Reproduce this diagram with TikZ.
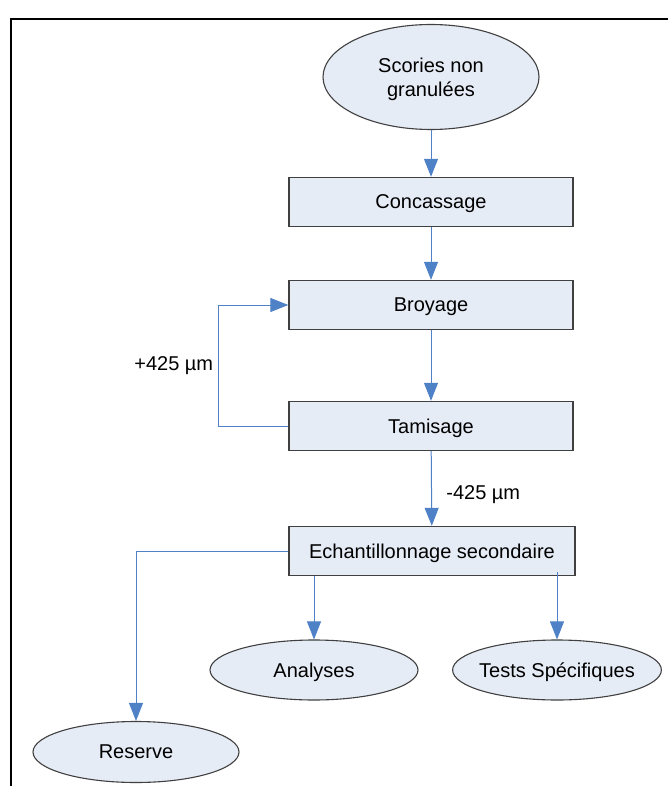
\documentclass[tikz,border=0pt]{standalone}
\usepackage{fontspec}
\setmainfont{Liberation Sans}
\usetikzlibrary{shapes.geometric,arrows.meta}

\definecolor{boxfill}{HTML}{E6ECF6}
\definecolor{boxline}{HTML}{404040}
\definecolor{flow}{HTML}{4F81C7}

\begin{document}
\begin{tikzpicture}[x=1pt,y=-1pt,
  font=\fontsize{20}{24}\selectfont,
  stepbox/.style={draw=boxline,line width=1.4pt,fill=boxfill,
    minimum width=284pt,minimum height=49pt,inner sep=0pt,text depth=0pt},
  endpoint/.style={ellipse,draw=boxline,line width=1.1pt,fill=boxfill,
    inner sep=0pt,align=center,text depth=0pt},
  flowline/.style={draw=flow,line width=1pt,
    -{Triangle[length=18pt,width=14pt]}}]
  \useasboundingbox (0,0) rectangle (668,786);

  % page frame (left and top edges)
  \draw[line width=1.8pt] (11,786) -- (11,19) -- (668,19);

  % process steps
  \node[endpoint,minimum width=216pt,minimum height=105pt] (src) at (431,77)
    {Scories non\\granulées};
  \node[stepbox] (conc) at (431,202) {Concassage};
  \node[stepbox] (broy) at (431,305) {Broyage};
  \node[stepbox] (tami) at (431,426) {Tamisage};
  \node[stepbox,minimum width=286pt] (ech) at (432,551) {Echantillonnage secondaire};

  % outputs
  \node[endpoint,minimum width=208pt,minimum height=60pt] (ana) at (314,670) {Analyses};
  \node[endpoint,minimum width=208pt,minimum height=60pt,inner xsep=-4pt] (tests) at (557,670) {Tests Spécifiques};
  \node[endpoint,minimum width=206pt,minimum height=61pt] (res) at (136,752) {Reserve};

  % main flow
  \draw[flowline] (src) -- (conc);
  \draw[flowline] (conc) -- (broy);
  \draw[flowline] (broy) -- (tami);
  \draw[flowline] (tami) -- node[right=11pt,pos=0.58] (fine) {-425 µm} (ech);

  % oversize returned to grinding
  \coordinate (loopL) at (218,426);
  \draw[flowline] (tami.west) -- (loopL) |- node[pos=0.25,left=1pt] (coarse) {+425 µm} (broy.west);

  % distribution of the secondary sample
  \coordinate (resTurn) at (136,551);
  \draw[flowline] (ech.west) -- (resTurn) -- (res.north);
  \draw[flowline] (ech.south -| ana.north) -- (ana.north);
  \draw[flowline] ([yshift=4pt]ech.south -| tests.north) -- (tests.north);
\end{tikzpicture}
\end{document}
